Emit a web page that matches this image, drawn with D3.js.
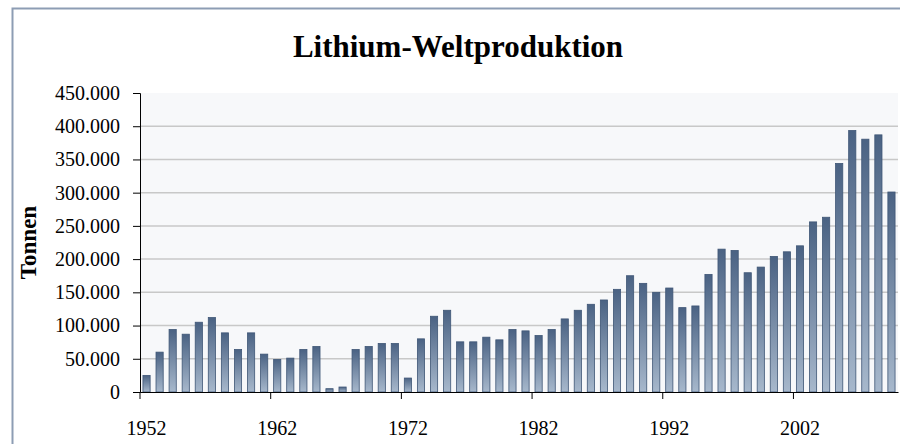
<!DOCTYPE html>
<html>
<head>
<meta charset="utf-8">
<script src="https://cdn.jsdelivr.net/npm/d3@7"></script>
<style>
  body { margin: 0; background: #fff; }
  svg { display: block; font-family: "Liberation Serif", "Times New Roman", serif; }
</style>
</head>
<body>
<div id="chart"></div>
<script>
// Lithium-Weltproduktion, Tonnen pro Jahr
const years = d3.range(1952, 2010)
const production = [
    25000, 60000, 94000, 87000, 105000, 112000, 89000, 64000, 89000, 57000,
    49000, 51000, 64000, 68500, 5000, 7500, 64000, 68500, 73000, 73000,
    21000, 80000, 114000, 123000, 75500, 75500, 82500, 78500, 94000, 92000,
    85000, 94000, 110000, 123000, 132000, 138500, 154500, 175000, 163500, 150000,
    156500, 127000, 129500, 177000, 215000, 213000, 179500, 188000, 204000, 211000,
    220000, 256000, 263000, 344000, 393500, 380500, 387000, 301000
]
const yTicks = [0, 50000, 100000, 150000, 200000, 250000, 300000, 350000, 400000, 450000]
const xLabels = [1952, 1962, 1972, 1982, 1992, 2002]

const W = 900, H = 444
const margin = {top: 93, right: 2, bottom: 52, left: 140}
const width = W - margin.left - margin.right,
    height = H - margin.top - margin.bottom

const svg = d3.select("#chart")
    .append("svg")
    .attr("width", W)
    .attr("height", H)

// outer frame
svg.append("rect")
    .attr("x", 12.5).attr("y", 8.5)
    .attr("width", 900).attr("height", 460)
    .attr("fill", "none")
    .attr("stroke", "#8d9db4")
    .attr("stroke-width", 2)

const defs = svg.append("defs")
const grad = defs.append("linearGradient")
    .attr("id", "barGrad")
    .attr("x1", 0).attr("y1", 0).attr("x2", 0).attr("y2", 1)
grad.append("stop").attr("offset", "0%").attr("stop-color", "#4a6283")
grad.append("stop").attr("offset", "100%").attr("stop-color", "#a7b8cc")

svg.append("text")
    .attr("x", 458)
    .attr("y", 57)
    .attr("text-anchor", "middle")
    .attr("font-size", 31)
    .attr("font-weight", "bold")
    .text("Lithium-Weltproduktion")

const g = svg.append("g")
    .attr("transform", `translate(${margin.left},${margin.top})`)

g.append("rect")
    .attr("width", width)
    .attr("height", height)
    .attr("fill", "#f7f8fa")

const x = d3.scaleBand()
    .domain(years)
    .range([0, width])
    .paddingInner(0.45)
    .paddingOuter(0.225)

const y = d3.scaleLinear()
    .domain([0, 450000])
    .range([height, 0])

// gridlines
g.append("g")
    .selectAll("line")
    .data(yTicks.slice(1, -1))
    .join("line")
    .attr("x1", 0).attr("x2", width)
    .attr("y1", d => y(d)).attr("y2", d => y(d))
    .attr("stroke", "#c8c8c8")
    .attr("stroke-width", 1.5)

g.append("g")
    .selectAll("rect")
    .data(years.map((yr, i) => ({year: yr, value: production[i]})))
    .join("rect")
    .attr("x", d => x(d.year))
    .attr("y", d => y(d.value))
    .attr("width", x.bandwidth())
    .attr("height", d => height - y(d.value))
    .attr("fill", "url(#barGrad)")
    .attr("stroke", "#3f5676")
    .attr("stroke-width", 0.8)

const fmt = d => d3.format(",")(d).replace(/,/g, ".")

const yAxis = g.append("g")
    .call(d3.axisLeft(y).tickValues(yTicks).tickFormat(fmt).tickSize(7).tickPadding(13))
yAxis.attr("font-family", null).attr("font-size", 20)
yAxis.selectAll("text").attr("fill", "#000")
yAxis.select(".domain").attr("stroke", "#000")

const xAxis = g.append("g")
    .attr("transform", `translate(0,${height})`)
    .call(d3.axisBottom(x).tickValues(xLabels).tickSize(7).tickPadding(22).tickSizeOuter(0))
xAxis.attr("font-family", null).attr("font-size", 20)
xAxis.selectAll(".tick line")
    .attr("x1", -x.step() / 2).attr("x2", -x.step() / 2)
xAxis.selectAll("text").attr("fill", "#000")
xAxis.select(".domain").attr("stroke", "#000")

svg.append("text")
    .attr("transform", `translate(36,${margin.top + height / 2}) rotate(-90)`)
    .attr("text-anchor", "middle")
    .attr("font-size", 23)
    .attr("font-weight", "bold")
    .text("Tonnen")
</script>
</body>
</html>
